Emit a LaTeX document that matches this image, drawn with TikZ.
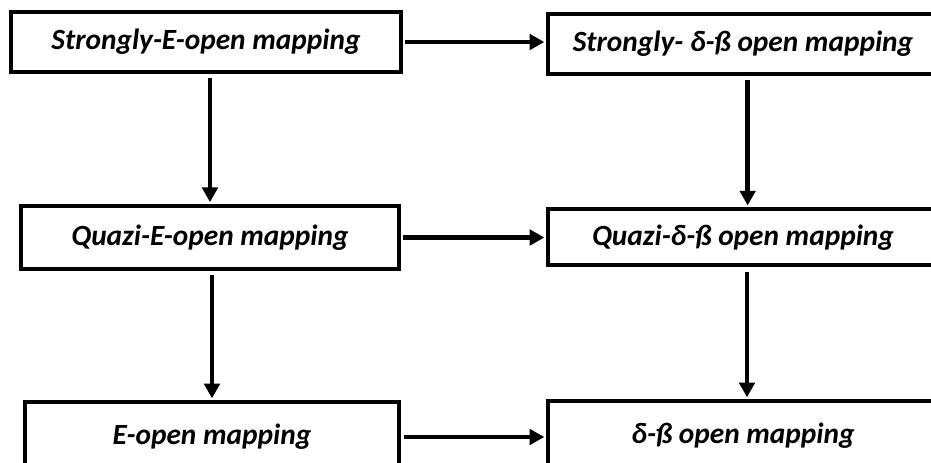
\documentclass[tikz,border=0pt]{standalone}
\usepackage{fontspec}
\setmainfont{Carlito}
\usetikzlibrary{arrows.meta}
\usetikzlibrary{calc}

\begin{document}
\begin{tikzpicture}[x=0.75pt,y=-0.75pt,
	box/.style={draw,line width=3pt,inner sep=0pt,font=\fontsize{22}{24}\selectfont\bfseries\itshape},
	arr/.style={-{Triangle[length=11pt,width=11.5pt]},line width=3.4pt}]
	\useasboundingbox (0,0) rectangle (931,463);
	\clip (0,0) rectangle (931,463);

	% left column
	\node[box,minimum width=292pt,minimum height=45pt] (se) at (206,42) {Strongly-E-open mapping};
	\node[box,minimum width=283pt,minimum height=47pt] (qe) at (210,237.5) {Quazi-E-open mapping};
	\node[box,minimum width=281pt,minimum height=52pt] (eo) at (212,437) {E-open mapping};

	% right column
	\node[box,minimum width=292pt,minimum height=45pt] (sd) at (743,44) {Strongly- δ-ß open mapping};
	\node[box,minimum width=292pt,minimum height=42pt] (qd) at (743,237.5) {Quazi-δ-ß open mapping};
	\node[box,minimum width=292pt,minimum height=52pt] (dd) at (743,436) {δ-ß open mapping};

	% implications
	\draw[arr,shorten <=2pt,shorten >=1.5pt] (se.east) -- (se.east -| sd.west);
	\draw[arr,shorten <=2pt,shorten >=1.5pt] (qe.east) -- (qe.east -| qd.west);
	\draw[arr,shorten <=2pt,shorten >=1.5pt] (eo.east) -- (eo.east -| dd.west);

	\draw[arr,shorten <=3pt,shorten >=1.5pt] (qe.north |- se.south) -- (qe.north);
	\draw[arr,shorten <=3pt,shorten >=1.5pt] (eo.north |- qe.south) -- (eo.north);
	\draw[arr,shorten <=3pt,shorten >=1.5pt] ([xshift=3.5pt]sd.south) -- ([xshift=3.5pt]sd.south |- qd.north);
	\draw[arr,shorten <=3pt,shorten >=1.5pt] ([xshift=3pt]qd.south) -- ([xshift=3pt]qd.south |- dd.north);

\end{tikzpicture}
\end{document}
